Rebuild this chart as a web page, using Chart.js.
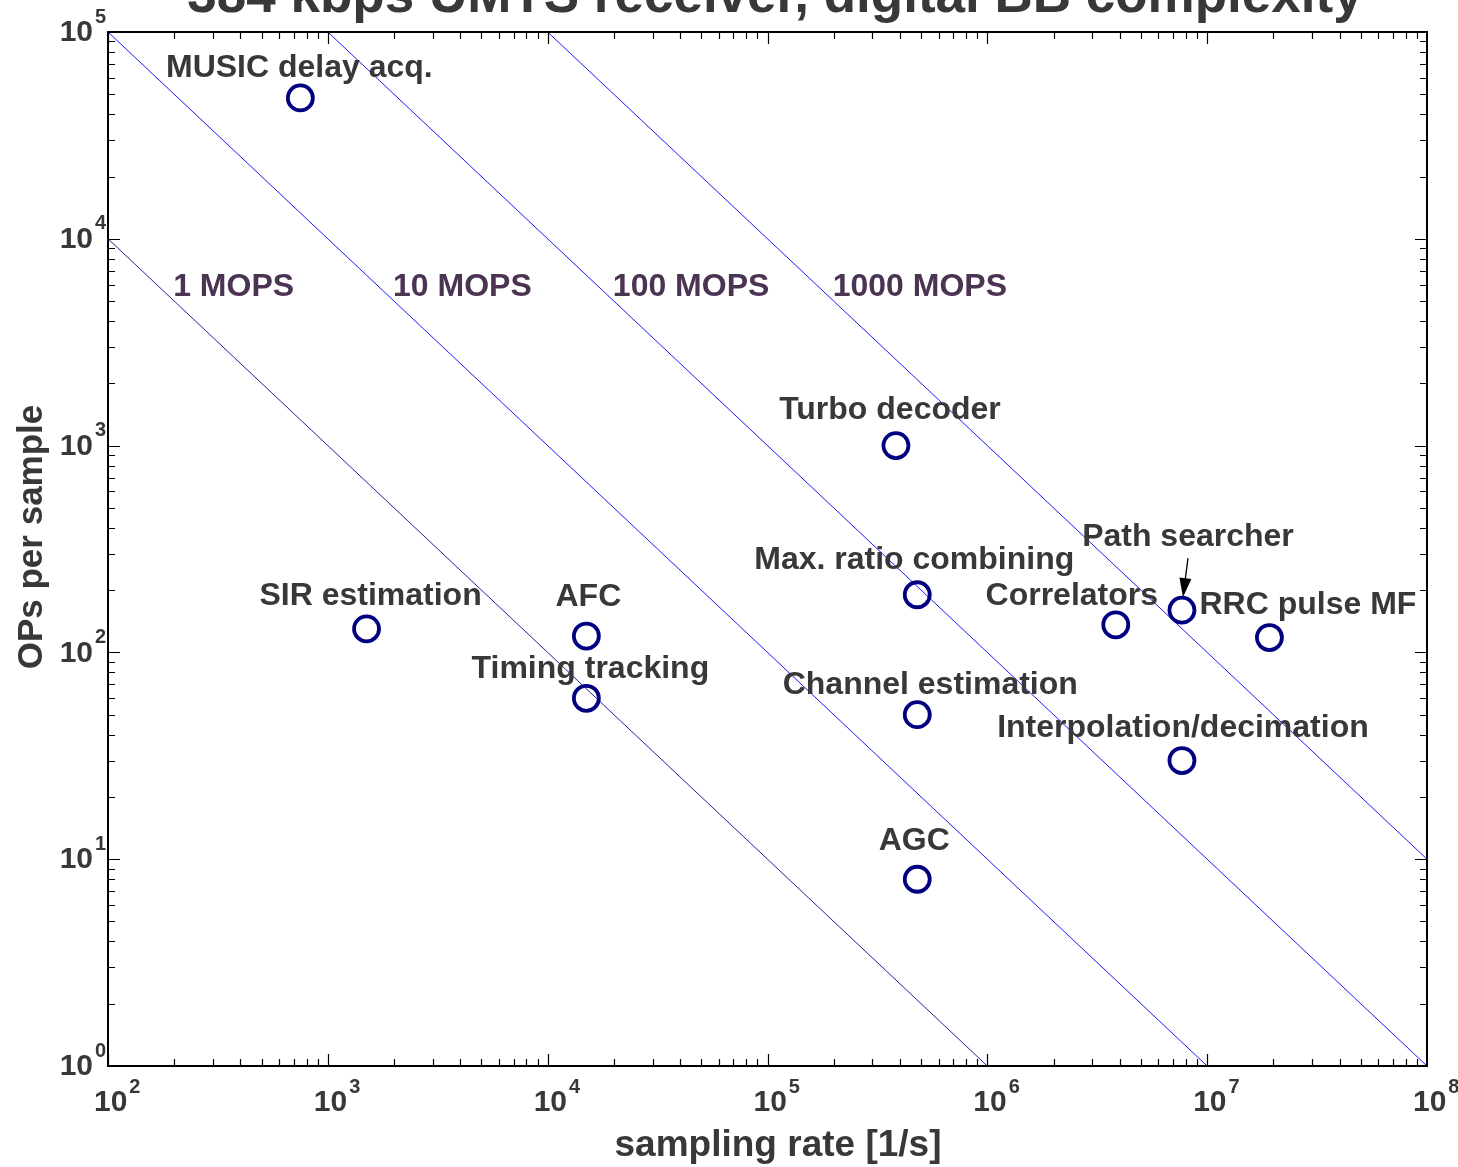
<!DOCTYPE html>
<html>
<head>
<meta charset="utf-8">
<script src="https://cdn.jsdelivr.net/npm/chart.js@4/dist/chart.umd.min.js"></script>
<style>
  html, body { margin: 0; padding: 0; background: #fff; }
  #wrap { width: 1458px; height: 1167px; }
</style>
</head>
<body>
<div id="wrap"><canvas id="c" width="1458" height="1167"></canvas></div>
<script>
// ---------- data ----------
const blockNames = [
  'MUSIC delay acq.', 'Turbo decoder', 'Max. ratio combining', 'Channel estimation',
  'AGC', 'SIR estimation', 'AFC', 'Timing tracking', 'Correlators',
  'Path searcher', 'RRC pulse MF', 'Interpolation/decimation'
];
const samplingRate = [750, 3.84e5, 4.8e5, 4.8e5, 4.8e5, 1500, 15000, 15000, 3.84e6, 7.68e6, 1.92e7, 7.68e6];
const opsPerSample = [48000, 1000, 190, 50, 8, 130, 120, 60, 136, 160, 118, 30];

const mopsNames = ['1 MOPS', '10 MOPS', '100 MOPS', '1000 MOPS'];
const mopsLineX = [[1e2, 1e6], [1e2, 1e7], [1e3, 1e8], [1e4, 1e8]];
const mopsLineY = [[1e4, 1], [1e5, 1], [1e5, 1], [1e5, 10]];
const mopsLabelX = [200, 2000, 20000, 200000];
const mopsLabelY = [6000, 6000, 6000, 6000];

const xTickExp = [2, 3, 4, 5, 6, 7, 8];
const yTickExp = [0, 1, 2, 3, 4, 5];

const titleText = '384 kbps UMTS receiver, digital BB complexity';
const xTitle = 'sampling rate [1/s]';
const yTitle = 'OPs per sample';

// ---------- layout / style (not data) ----------
const labelOffsets = [
  [-1, -30, 'center'], [-6, -35, 'center'], [-3, -35, 'center'], [13, -29, 'center'],
  [-3, -38, 'center'], [4, -33, 'center'], [2, -39, 'center'], [4, -29, 'center'],
  [-44, -29, 'center'], [6, -73, 'center'], [-70, -32, 'left'], [1, -32, 'center']
];
const lineColors = ['#23239a', '#1a1aff', '#1a1aff', '#1a1aff'];
const textColor = '#383838';
const mopsColor = '#4b3352';
const FONT = '"Liberation Sans", Arial, Helvetica, sans-serif';

const pointData = samplingRate.map((x, i) => ({ x, y: opsPerSample[i] }));
const lineDatasets = mopsNames.map((n, i) => ({
  type: 'line',
  label: n,
  data: mopsLineX[i].map((x, j) => ({ x, y: mopsLineY[i][j] })),
  borderColor: lineColors[i],
  borderWidth: 1,
  pointRadius: 0,
  showLine: true,
  fill: false,
  order: 1
}));

function drawSup(ctx, base, sup, x, y, align) {
  ctx.font = 'bold 30px ' + FONT;
  const bw = ctx.measureText(base).width;
  ctx.textBaseline = 'middle';
  ctx.textAlign = 'left';
  const left = align === 'right' ? x - bw : x;
  ctx.fillText(base, left, y);
  ctx.font = 'bold 20px ' + FONT;
  ctx.fillText(sup, left + bw + 2, y - 16);
}

const decor = {
  id: 'decor',
  afterDatasetsDraw(chart) {
    const ctx = chart.ctx;
    const a = chart.chartArea;
    const xs = chart.scales.x, ys = chart.scales.y;
    ctx.save();

    // frame
    ctx.strokeStyle = '#000';
    ctx.lineWidth = 2;
    ctx.strokeRect(a.left, a.top, a.right - a.left, a.bottom - a.top);

    // ticks (inward, all four sides)
    ctx.lineWidth = 1.2;
    ctx.beginPath();
    for (let e = 2; e < 8; e++) {
      for (let m = 1; m <= 9; m++) {
        const px = Math.round(xs.getPixelForValue(m * Math.pow(10, e))) + 0.5;
        const len = m === 1 ? 12 : 7;
        ctx.moveTo(px, a.bottom); ctx.lineTo(px, a.bottom - len);
        ctx.moveTo(px, a.top); ctx.lineTo(px, a.top + len);
      }
    }
    for (let e = 0; e < 5; e++) {
      for (let m = 1; m <= 9; m++) {
        const py = Math.round(ys.getPixelForValue(m * Math.pow(10, e))) + 0.5;
        const len = m === 1 ? 12 : 7;
        ctx.moveTo(a.left, py); ctx.lineTo(a.left + len, py);
        ctx.moveTo(a.right, py); ctx.lineTo(a.right - len, py);
      }
    }
    ctx.stroke();

    // tick labels
    ctx.fillStyle = textColor;
    xTickExp.forEach(e => {
      const px = xs.getPixelForValue(Math.pow(10, e));
      drawSup(ctx, '10', String(e), px - 14, a.bottom + 37, 'left');
    });
    yTickExp.forEach(e => {
      const py = ys.getPixelForValue(Math.pow(10, e));
      drawSup(ctx, '10', String(e), a.left - 15, py + 1, 'right');
    });

    // axis titles
    ctx.textAlign = 'center';
    ctx.textBaseline = 'middle';
    ctx.font = 'bold 37px ' + FONT;
    ctx.fillText(xTitle, 778, a.bottom + 80);
    ctx.font = 'bold 35px ' + FONT;
    ctx.save();
    ctx.translate(32, 537);
    ctx.rotate(-Math.PI / 2);
    ctx.fillText(yTitle, 0, 0);
    ctx.restore();

    // title (clipped at top)
    ctx.font = 'bold 53px ' + FONT;
    ctx.textAlign = 'center';
    ctx.textBaseline = 'alphabetic';
    ctx.fillText(titleText, 775, 12);

    // block labels
    ctx.font = 'bold 32px ' + FONT;
    ctx.textBaseline = 'middle';
    blockNames.forEach((name, i) => {
      const px = xs.getPixelForValue(samplingRate[i]);
      const py = ys.getPixelForValue(opsPerSample[i]);
      const o = labelOffsets[i];
      ctx.textAlign = o[2];
      ctx.fillText(name, px + o[0], py + o[1]);
    });

    // MOPS labels
    ctx.fillStyle = mopsColor;
    ctx.textAlign = 'left';
    mopsNames.forEach((n, i) => {
      ctx.fillText(n, xs.getPixelForValue(mopsLabelX[i]) - 1, ys.getPixelForValue(mopsLabelY[i]) + 2);
    });

    // arrow for Path searcher
    const pi = blockNames.indexOf('Path searcher');
    const ax = xs.getPixelForValue(samplingRate[pi]);
    const ay = ys.getPixelForValue(opsPerSample[pi]);
    const tail = [ax + 6, ay - 52], tip = [ax + 1, ay - 13];
    const ang = Math.atan2(tip[1] - tail[1], tip[0] - tail[0]);
    ctx.strokeStyle = '#000';
    ctx.fillStyle = '#000';
    ctx.lineWidth = 1.3;
    ctx.beginPath();
    ctx.moveTo(tail[0], tail[1]);
    ctx.lineTo(tip[0] - 17 * Math.cos(ang), tip[1] - 17 * Math.sin(ang));
    ctx.stroke();
    ctx.beginPath();
    ctx.moveTo(tip[0], tip[1]);
    ctx.lineTo(tip[0] - 19 * Math.cos(ang) + 6 * Math.sin(ang), tip[1] - 19 * Math.sin(ang) - 6 * Math.cos(ang));
    ctx.lineTo(tip[0] - 19 * Math.cos(ang) - 6 * Math.sin(ang), tip[1] - 19 * Math.sin(ang) + 6 * Math.cos(ang));
    ctx.closePath();
    ctx.fill();

    ctx.restore();
  }
};

new Chart(document.getElementById('c'), {
  type: 'scatter',
  data: {
    datasets: [
      {
        label: 'blocks',
        data: pointData,
        pointStyle: 'circle',
        pointRadius: 12.5,
        pointHoverRadius: 12.5,
        pointBorderWidth: 3.8,
        pointBorderColor: '#000080',
        pointBackgroundColor: 'rgba(0,0,0,0)',
        showLine: false,
        order: 0
      },
      ...lineDatasets
    ]
  },
  options: {
    responsive: false,
    animation: false,
    events: [],
    layout: { padding: { left: 108, top: 32, right: 31, bottom: 101 } },
    plugins: { legend: { display: false }, tooltip: { enabled: false }, title: { display: false } },
    scales: {
      x: { type: 'logarithmic', min: 1e2, max: 1e8, display: false },
      y: { type: 'logarithmic', min: 1, max: 1e5, display: false }
    }
  },
  plugins: [decor]
});
</script>
</body>
</html>
